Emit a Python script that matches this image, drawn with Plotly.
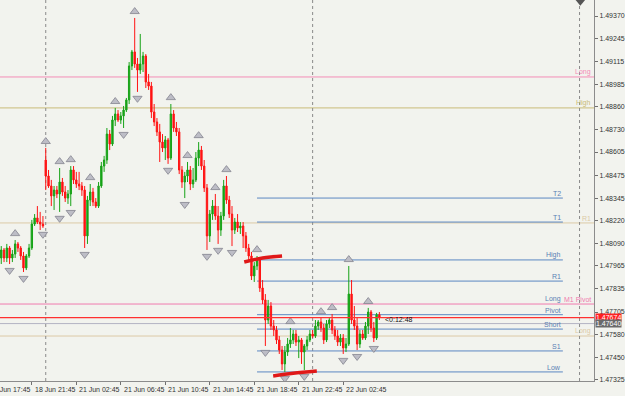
import plotly.graph_objects as go

# ---------------- data (GBPUSD M15, bar index 0 = 18 Jun 17:45) ----------------
bar_index = list(range(4, 142))

opens = [
    1.48009, 1.48009, 1.48054, 1.48009, 1.48065, 1.48009, 1.48031, 1.48088, 1.48065, 1.48020,
    1.47953, 1.48020, 1.48065, 1.48200, 1.48234, 1.48211, 1.48200, 1.48560, 1.48470, 1.48414,
    1.48358, 1.48391, 1.48369, 1.48436, 1.48380, 1.48346, 1.48369, 1.48504, 1.48448, 1.48425,
    1.48414, 1.48391, 1.48133, 1.48335, 1.48380, 1.48324, 1.48301, 1.48414, 1.48526, 1.48560,
    1.48706, 1.48650, 1.48785, 1.48819, 1.48785, 1.48808, 1.48841, 1.48898, 1.49089, 1.49168,
    1.49100, 1.49066, 1.49100, 1.49145, 1.48999, 1.48976, 1.48830, 1.48774, 1.48718, 1.48661,
    1.48628, 1.48673, 1.48571, 1.48819, 1.48740, 1.48718, 1.48504, 1.48436, 1.48470, 1.48504,
    1.48425, 1.48448, 1.48571, 1.48616, 1.48526, 1.48403, 1.48133, 1.48256, 1.48301, 1.48245,
    1.48166, 1.48245, 1.48414, 1.48335, 1.48256, 1.48166, 1.48211, 1.48178, 1.48189, 1.48133,
    1.48065, 1.48020, 1.47908, 1.47964, 1.47998, 1.47840, 1.47773, 1.47660, 1.47739, 1.47626,
    1.47604, 1.47548, 1.47491, 1.47413, 1.47480, 1.47525, 1.47548, 1.47581, 1.47536, 1.47548,
    1.47480, 1.47514, 1.47548, 1.47581, 1.47570, 1.47626, 1.47649, 1.47615, 1.47548, 1.47638,
    1.47660, 1.47604, 1.47570, 1.47536, 1.47559, 1.47503, 1.47525, 1.47806, 1.47660, 1.47626,
    1.47525, 1.47581, 1.47559, 1.47626, 1.47705, 1.47615, 1.47559, 1.47690,
]
highs = [
    1.48043, 1.48076, 1.48065, 1.48088, 1.48076, 1.48054, 1.48110, 1.48099, 1.48076, 1.48043,
    1.48031, 1.48088, 1.48223, 1.48256, 1.48301, 1.48268, 1.48245, 1.48628, 1.48504, 1.48448,
    1.48414, 1.48414, 1.48515, 1.48459, 1.48414, 1.48391, 1.48526, 1.48526, 1.48493, 1.48493,
    1.48436, 1.48414, 1.48358, 1.48425, 1.48403, 1.48346, 1.48436, 1.48549, 1.48583, 1.48740,
    1.48729, 1.48808, 1.48853, 1.48841, 1.48830, 1.48864, 1.48909, 1.49111, 1.49179, 1.49359,
    1.49134, 1.49269, 1.49168, 1.49156, 1.49044, 1.48999, 1.48875, 1.48796, 1.48763, 1.48706,
    1.48695, 1.48684, 1.48875, 1.48841, 1.48774, 1.48740, 1.48526, 1.48493, 1.48549, 1.48526,
    1.48515, 1.48605, 1.48661, 1.48639, 1.48560, 1.48425, 1.48279, 1.48335, 1.48369, 1.48301,
    1.48268, 1.48448, 1.48470, 1.48358, 1.48301, 1.48234, 1.48256, 1.48211, 1.48211, 1.48155,
    1.48088, 1.48043, 1.47986, 1.48020, 1.48009, 1.47885, 1.47806, 1.47773, 1.47761, 1.47660,
    1.47626, 1.47570, 1.47514, 1.47514, 1.47559, 1.47615, 1.47604, 1.47604, 1.47570, 1.47559,
    1.47525, 1.47570, 1.47604, 1.47604, 1.47660, 1.47660, 1.47671, 1.47638, 1.47660, 1.47671,
    1.47694, 1.47626, 1.47604, 1.47581, 1.47581, 1.47559, 1.47964, 1.47885, 1.47739, 1.47671,
    1.47604, 1.47604, 1.47649, 1.47728, 1.47716, 1.47649, 1.47700, 1.47705,
]
lows = [
    1.47975, 1.47975, 1.47986, 1.47986, 1.47975, 1.47986, 1.48009, 1.48043, 1.47998, 1.47930,
    1.47941, 1.48009, 1.48054, 1.48189, 1.48200, 1.48166, 1.48178, 1.48391, 1.48403, 1.48301,
    1.48279, 1.48346, 1.48268, 1.48358, 1.48324, 1.48313, 1.48301, 1.48425, 1.48403, 1.48391,
    1.48358, 1.48065, 1.48088, 1.48301, 1.48301, 1.48290, 1.48290, 1.48403, 1.48493, 1.48538,
    1.48616, 1.48639, 1.48751, 1.48774, 1.48763, 1.48740, 1.48830, 1.48875, 1.49066, 1.49078,
    1.48943, 1.49044, 1.49055, 1.48965, 1.48954, 1.48796, 1.48751, 1.48695, 1.48549, 1.48605,
    1.48560, 1.48538, 1.48560, 1.48718, 1.48695, 1.48481, 1.48403, 1.48346, 1.48436, 1.48391,
    1.48403, 1.48436, 1.48526, 1.48504, 1.48380, 1.48054, 1.48099, 1.48223, 1.48223, 1.48088,
    1.48133, 1.48223, 1.48313, 1.48234, 1.48076, 1.48144, 1.48155, 1.48144, 1.48065, 1.48043,
    1.47998, 1.47885, 1.47874, 1.47941, 1.47818, 1.47750, 1.47514, 1.47638, 1.47604, 1.47570,
    1.47525, 1.47469, 1.47379, 1.47368, 1.47458, 1.47503, 1.47525, 1.47514, 1.47446, 1.47413,
    1.47379, 1.47491, 1.47536, 1.47559, 1.47559, 1.47604, 1.47593, 1.47525, 1.47536, 1.47615,
    1.47581, 1.47548, 1.47514, 1.47514, 1.47469, 1.47480, 1.47514, 1.47638, 1.47604, 1.47491,
    1.47503, 1.47548, 1.47548, 1.47581, 1.47593, 1.47536, 1.47548, 1.47660,
]
closes = [
    1.47998, 1.48054, 1.48009, 1.48065, 1.48009, 1.48031, 1.48088, 1.48065, 1.48020, 1.47953,
    1.48020, 1.48065, 1.48200, 1.48234, 1.48211, 1.48200, 1.48189, 1.48470, 1.48414, 1.48358,
    1.48391, 1.48369, 1.48436, 1.48380, 1.48346, 1.48369, 1.48504, 1.48448, 1.48425, 1.48414,
    1.48391, 1.48133, 1.48335, 1.48380, 1.48324, 1.48301, 1.48414, 1.48526, 1.48560, 1.48706,
    1.48650, 1.48785, 1.48819, 1.48785, 1.48808, 1.48841, 1.48898, 1.49089, 1.49168, 1.49100,
    1.49066, 1.49100, 1.49145, 1.48999, 1.48976, 1.48830, 1.48774, 1.48718, 1.48661, 1.48628,
    1.48673, 1.48571, 1.48819, 1.48740, 1.48718, 1.48504, 1.48436, 1.48470, 1.48504, 1.48425,
    1.48448, 1.48571, 1.48616, 1.48526, 1.48403, 1.48133, 1.48256, 1.48301, 1.48245, 1.48166,
    1.48245, 1.48414, 1.48335, 1.48256, 1.48166, 1.48211, 1.48178, 1.48189, 1.48133, 1.48065,
    1.48020, 1.47908, 1.47964, 1.47998, 1.47840, 1.47773, 1.47660, 1.47739, 1.47626, 1.47604,
    1.47548, 1.47491, 1.47413, 1.47480, 1.47525, 1.47548, 1.47581, 1.47536, 1.47548, 1.47480,
    1.47514, 1.47548, 1.47581, 1.47570, 1.47626, 1.47649, 1.47615, 1.47548, 1.47638, 1.47660,
    1.47604, 1.47570, 1.47536, 1.47559, 1.47503, 1.47525, 1.47806, 1.47660, 1.47626, 1.47525,
    1.47581, 1.47559, 1.47626, 1.47705, 1.47615, 1.47559, 1.47690, 1.47674,
]

# fractal bars
fractal_up = [10, 21, 26, 30, 37, 46, 53, 66, 72, 76, 82, 86, 97, 109, 120, 124, 130, 137]
fractal_down = [8, 13, 20, 26, 30, 35, 49, 54, 65, 71, 79, 83, 88, 100, 107, 114, 128, 133, 139]

# time axis labels
time_tick_index = [0, 16, 32, 48, 64, 80, 96, 112, 128]
time_tick_text = ["18 Jun 17:45", "18 Jun 21:45", "21 Jun 02:45", "21 Jun 06:45",
                  "21 Jun 10:45", "21 Jun 14:45", "21 Jun 18:45", "21 Jun 22:45",
                  "22 Jun 02:45"]
day_separators = [21, 117, 213]

# price axis labels
price_ticks = [1.49370, 1.49245, 1.49115, 1.48985, 1.48860, 1.48730, 1.48605, 1.48475,
               1.48345, 1.48220, 1.48090, 1.47965, 1.47835, 1.47705, 1.47580, 1.47450, 1.47325]

# full-width horizontal levels (name, price, colour)
wide_names = ["Long", "High", "R1", "M1 Pivot", "Long"]
wide_prices = [1.49027, 1.48853, 1.48206, 1.47750, 1.47570]
wide_colors = ["#f48cb6", "#c9bb78", "#dccaa6", "#f07aae", "#dccaa6"]

# pivot levels drawn from 21 Jun 18:00 (bar 97) to bar 207
pivot_names = ["T2", "T1", "High", "R1", "Pivot", "Short", "S1", "Low"]
pivot_prices = [1.48346, 1.48211, 1.47998, 1.47879, 1.47690, 1.47609, 1.47486, 1.47368]
pivot_extra_label = ("Long", 1.47750)
pivot_start, pivot_end = 97, 207

ask_price = 1.47640
bid_price = closes[-1]

# hand-drawn trend marks (bar index, price)
mark1_x, mark1_y = [92.4, 99, 106], [1.47986, 1.48009, 1.48020]
mark2_x, mark2_y = [102.8, 110, 118.5], [1.47345, 1.47360, 1.47373]

# ---------------- figure ----------------
xr = [4.55, 218.2]
yr = [1.47317, 1.49460]
font_fam = "Liberation Sans Narrow, Liberation Sans, Arial"
BG = "#f2f3ee"

fig = go.Figure()

fig.add_trace(go.Candlestick(
    x=bar_index, open=opens, high=highs, low=lows, close=closes,
    increasing=dict(line=dict(color="#17a317", width=1), fillcolor="#17a317"),
    decreasing=dict(line=dict(color="#ff1414", width=1), fillcolor="#ff1414"),
    whiskerwidth=0, showlegend=False, hoverinfo="skip"))

off = 0.00036
up_y = [highs[bar_index.index(i)] + off for i in fractal_up]
dn_y = [lows[bar_index.index(i)] - off for i in fractal_down]
fig.add_trace(go.Scatter(x=fractal_up, y=up_y, mode="markers", showlegend=False, hoverinfo="skip",
                         marker=dict(symbol="triangle-up", size=8, color="#bdbdc6",
                                     line=dict(color="#84848f", width=0.8))))
fig.add_trace(go.Scatter(x=fractal_down, y=dn_y, mode="markers", showlegend=False, hoverinfo="skip",
                         marker=dict(symbol="triangle-down", size=8, color="#bdbdc6",
                                     line=dict(color="#84848f", width=0.8))))

for mx, my in ((mark1_x, mark1_y), (mark2_x, mark2_y)):
    fig.add_trace(go.Scatter(x=mx, y=my, mode="lines", showlegend=False, hoverinfo="skip",
                             line=dict(color="#e01818", width=3.5, shape="spline")))

shapes = []
for p, c in zip(wide_prices, wide_colors):
    shapes.append(dict(type="line", xref="paper", x0=0, x1=1, yref="y", y0=p, y1=p,
                       line=dict(color=c, width=1), layer="below"))
shapes.append(dict(type="line", xref="paper", x0=0, x1=1, yref="y", y0=ask_price, y1=ask_price,
                   line=dict(color="#b4b4c4", width=1), layer="below"))
for p in pivot_prices:
    shapes.append(dict(type="line", xref="x", x0=pivot_start, x1=pivot_end, yref="y", y0=p, y1=p,
                       line=dict(color="#5b87c2", width=1), layer="below"))
shapes.append(dict(type="line", xref="paper", x0=0, x1=1, yref="y", y0=bid_price, y1=bid_price,
                   line=dict(color="#ff3030", width=1.3), layer="above"))
for s in day_separators:
    shapes.append(dict(type="line", xref="x", x0=s, x1=s, yref="paper", y0=0, y1=1,
                       line=dict(color="#8a8a8a", width=1, dash="dot"), layer="below"))
# chart shift marker at the top
shapes.append(dict(type="path", xref="paper", yref="paper",
                   path="M 0.969,1 L 0.985,1 L 0.977,0.985 Z",
                   fillcolor="#555555", line=dict(width=0)))

ann = []
for i, t in zip(time_tick_index, time_tick_text):
    xp = (i - xr[0]) / (xr[1] - xr[0])
    ann.append(dict(x=xp, xref="paper", y=0, yref="paper", text=t, showarrow=False,
                    xanchor="left", yanchor="top", xshift=1, yshift=-3,
                    font=dict(family=font_fam, size=7, color="#333333")))
for n, p in zip(wide_names, wide_prices):
    c = wide_colors[wide_prices.index(p)]
    ann.append(dict(x=1, xref="paper", y=p, yref="y", text=n, showarrow=False,
                    xanchor="right", yanchor="bottom", xshift=-1, yshift=-1,
                    font=dict(family=font_fam, size=7, color=c)))
for n, p in list(zip(pivot_names, pivot_prices)) + [pivot_extra_label]:
    ann.append(dict(x=pivot_end, xref="x", y=p, yref="y", text=n, showarrow=False,
                    xanchor="right", yanchor="bottom", yshift=-1,
                    font=dict(family=font_fam, size=7, color="#5a7fb4")))
ann.append(dict(x=1, xref="paper", y=bid_price, yref="y", text=f"{bid_price:.5f}", showarrow=False,
                xanchor="left", yanchor="middle", bgcolor="#ff2020", borderpad=0, xshift=1,
                font=dict(family=font_fam, size=7, color="white")))
ann.append(dict(x=1, xref="paper", y=ask_price, yref="y", text=f"{ask_price:.5f}", showarrow=False,
                xanchor="left", yanchor="middle", bgcolor="#6a6a6a", borderpad=0, xshift=1,
                font=dict(family=font_fam, size=7, color="white")))
ann.append(dict(x=bar_index[-1], xref="x", y=bid_price, yref="y", text="<0:12:48", showarrow=False,
                xanchor="left", yanchor="middle", xshift=4, yshift=-2,
                font=dict(family=font_fam, size=7, color="#111111")))

fig.update_layout(
    width=625, height=396,
    margin=dict(l=0, r=29, t=0, b=15),
    paper_bgcolor=BG, plot_bgcolor=BG,
    shapes=shapes, annotations=ann,
    xaxis=dict(range=xr, rangeslider=dict(visible=False), showgrid=False, zeroline=False,
               showline=True, linecolor="#8c8c8c", linewidth=1,
               tickmode="array", tickvals=time_tick_index[1:], ticks="outside", ticklen=3,
               tickcolor="#707070", showticklabels=False, fixedrange=True),
    yaxis=dict(range=yr, side="right", showgrid=False, zeroline=False,
               showline=True, linecolor="#8c8c8c", linewidth=1,
               tickmode="array", tickvals=price_ticks, ticktext=[f"{v:.5f}" for v in price_ticks],
               ticks="outside", ticklen=3, tickcolor="#707070",
               tickfont=dict(family=font_fam, size=7, color="#333333"), fixedrange=True),
)

fig.write_html("out.html")
